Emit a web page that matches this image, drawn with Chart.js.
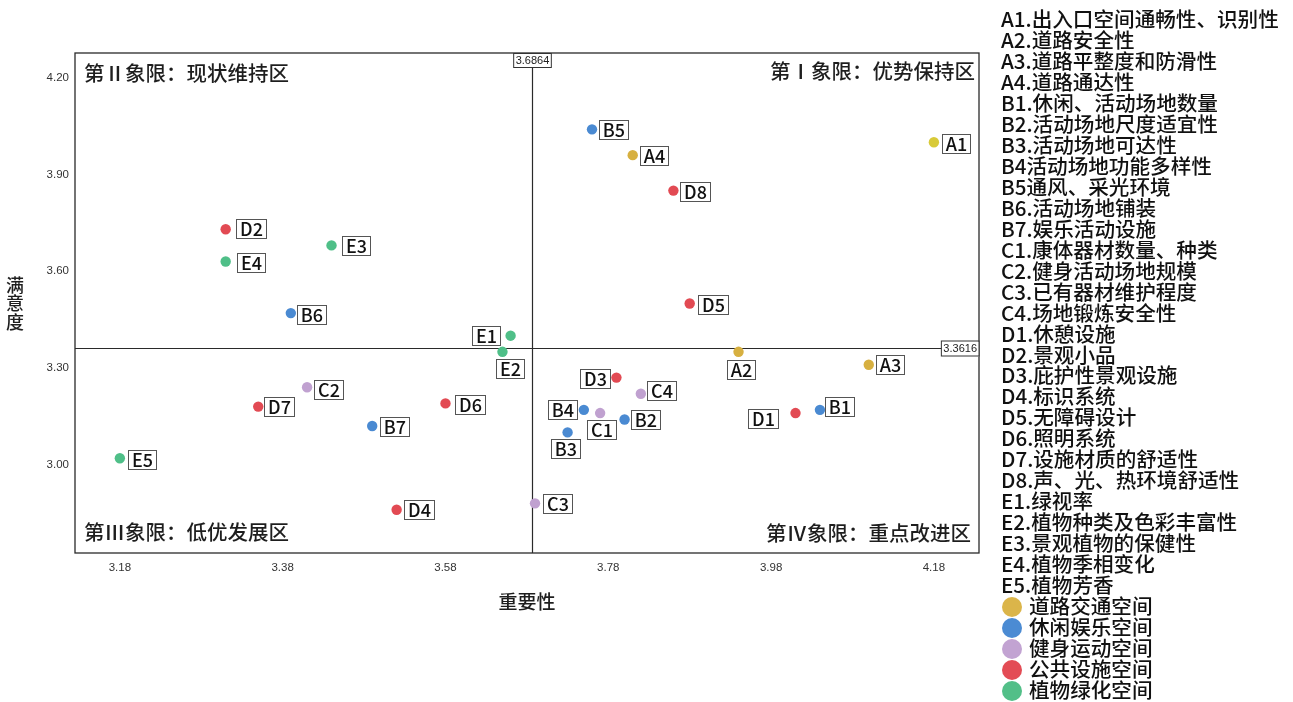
<!DOCTYPE html>
<html><head><meta charset="utf-8">
<script src="https://cdn.jsdelivr.net/npm/chart.js@4.4.1/dist/chart.umd.min.js"></script>
<style>
html,body{margin:0;padding:0;background:#fff;}
#wrap{position:relative;width:1293px;height:702px;overflow:hidden;}
#c{position:absolute;left:0;top:0;}
#legend{position:absolute;left:1001px;top:8px;font-family:"Noto Sans CJK SC";font-size:20.6px;line-height:20.97px;color:#111;white-space:nowrap;font-weight:500;}
#legend div{height:20.97px;}
.sw{display:inline-block;width:20px;height:20px;border-radius:50%;vertical-align:-3px;margin-left:1px;margin-right:7px;}
</style></head><body>
<div id="wrap"><canvas id="c" width="1293" height="702"></canvas><div id="legend"></div></div>
<script>
// ---- data ----
const codes = ['A1','A2','A3','A4','B1','B2','B3','B4','B5','B6','B7','C1','C2','C3','C4','D1','D2','D3','D4','D5','D6','D7','D8','E1','E2','E3','E4','E5'];
const importance = [4.18,3.94,4.10,3.81, 4.04,3.80,3.73,3.75,3.76,3.39,3.49, 3.77,3.41,3.69,3.82, 4.01,3.31,3.79,3.52,3.88,3.58,3.35,3.86, 3.66,3.65,3.44,3.31,3.18];
const satisfaction = [4.00,3.35,3.31,3.96, 3.17,3.14,3.10,3.17,4.04,3.47,3.12, 3.16,3.24,2.88,3.22, 3.16,3.73,3.27,2.86,3.50,3.19,3.18,3.85, 3.40,3.35,3.68,3.63,3.02];
const itemNames = ['A1.出入口空间通畅性、识别性','A2.道路安全性','A3.道路平整度和防滑性','A4.道路通达性',
 'B1.休闲、活动场地数量','B2.活动场地尺度适宜性','B3.活动场地可达性','B4活动场地功能多样性','B5通风、采光环境','B6.活动场地铺装','B7.娱乐活动设施',
 'C1.康体器材数量、种类','C2.健身活动场地规模','C3.已有器材维护程度','C4.场地锻炼安全性',
 'D1.休憩设施','D2.景观小品','D3.庇护性景观设施','D4.标识系统','D5.无障碍设计','D6.照明系统','D7.设施材质的舒适性','D8.声、光、热环境舒适性',
 'E1.绿视率','E2.植物种类及色彩丰富性','E3.景观植物的保健性','E4.植物季相变化','E5.植物芳香'];
const groupKeys = ['A','B','C','D','E'];
const groupNames = ['道路交通空间','休闲娱乐空间','健身运动空间','公共设施空间','植物绿化空间'];
const xTicks = [3.18,3.38,3.58,3.78,3.98,4.18];
const yTicks = [3.00,3.30,3.60,3.90,4.20];
const meanImportance = 3.6864;
const meanSatisfaction = 3.3616;
const xTitle = '重要性';
const yTitle = '满意度';
const quadrantTitles = ['第Ⅰ象限：优势保持区','第Ⅱ象限：现状维持区','第Ⅲ象限：低优发展区','第Ⅳ象限：重点改进区'];

// ---- style (not data) ----
const groupColors = ['#d7b040','#4a8ad2','#c0a1d0','#e24a53','#4fbf88'];
const legendColors = ['#dbb54a','#4b8bd3','#c2a3d2','#e34c55','#52bf88'];
const specialPointColor = {A1:'#d8ca38'};
// label box centre offsets from the point, px
const labelOffsets = {
 A1:[22,1],A2:[2,18],A3:[21,0],A4:[21,0],
 B1:[20,-3],B2:[21,0],B3:[-2,16],B4:[-21,0],B5:[21,0],B6:[21,1],B7:[22,1],
 C1:[1,16],C2:[21,2],C3:[22,0],C4:[21,-3],
 D1:[-33,5],D2:[25,-1],D3:[-21,1],D4:[22,0],D5:[23,1],D6:[25,1],D7:[21,0],D8:[22,1],
 E1:[-25,0],E2:[8,17],E3:[24,0],E4:[25,1],E5:[22,1]
};

// ---- legend (HTML text) ----
const lg = document.getElementById('legend');
itemNames.forEach(t=>{const d=document.createElement('div');d.textContent=t;lg.appendChild(d);});
groupNames.forEach((t,i)=>{const d=document.createElement('div');const s=document.createElement('span');s.className='sw';s.style.background=legendColors[i];d.appendChild(s);d.appendChild(document.createTextNode(t));lg.appendChild(d);});

// ---- datasets ----
const datasets = groupKeys.map((g,gi)=>{
  const idx = codes.map((c,i)=>i).filter(i=>codes[i][0]===g);
  return {
    label: groupNames[gi],
    data: idx.map(i=>({x:importance[i], y:satisfaction[i], code:codes[i]})),
    pointBackgroundColor: idx.map(i=>specialPointColor[codes[i]]||groupColors[gi]),
    pointBorderWidth: 0,
    pointRadius: 5.2,
    pointHoverRadius: 5.2
  };
});

const CJK = '"Noto Sans CJK SC"';
const deco = {
  id:'deco',
  beforeDatasetsDraw(chart){
    const {ctx, chartArea:a, scales:{x,y}} = chart;
    ctx.save();
    ctx.strokeStyle='#2a2a2a'; ctx.lineWidth=1.3;
    ctx.strokeRect(a.left, a.top, a.right-a.left, a.bottom-a.top);
    const vx = Math.round(x.getPixelForValue(meanImportance))+0.5;
    const hy = Math.round(y.getPixelForValue(meanSatisfaction))+0.5;
    ctx.lineWidth=1.2;
    ctx.beginPath(); ctx.moveTo(vx,a.top); ctx.lineTo(vx,a.bottom); ctx.stroke();
    ctx.beginPath(); ctx.moveTo(a.left,hy); ctx.lineTo(a.right,hy); ctx.stroke();
    // value boxes
    ctx.font='11px "Liberation Sans"'; ctx.textBaseline='middle'; ctx.textAlign='center';
    const t1=meanImportance.toFixed(4), w1=ctx.measureText(t1).width+4;
    ctx.fillStyle='#fff'; ctx.fillRect(vx-w1/2,a.top+1,w1,14);
    ctx.lineWidth=1; ctx.strokeStyle='#333'; ctx.strokeRect(vx-w1/2,a.top+0.5,w1,14);
    ctx.fillStyle='#222'; ctx.fillText(t1,vx,a.top+8);
    const t2=meanSatisfaction.toFixed(4), w2=ctx.measureText(t2).width+4;
    ctx.fillStyle='#fff'; ctx.fillRect(a.right-w2,hy-7,w2,15);
    ctx.strokeRect(a.right-w2,hy-7.5,w2,15);
    ctx.fillStyle='#222'; ctx.fillText(t2,a.right-w2/2,hy);
    // quadrant titles
    ctx.font='500 20.5px '+CJK; ctx.fillStyle='#1e1e1e';
    ctx.textAlign='right'; ctx.fillText(quadrantTitles[0], a.right-4, a.top+18);
    ctx.textAlign='left'; ctx.fillText(quadrantTitles[1], a.left+9, a.top+20);
    ctx.textAlign='left'; ctx.fillText(quadrantTitles[2], a.left+9, a.bottom-21);
    ctx.textAlign='right'; ctx.fillText(quadrantTitles[3], a.right-8, a.bottom-20);
    // y title stacked
    ctx.font='500 18px '+CJK; ctx.textAlign='center'; ctx.fillStyle='#1e1e1e';
    [...yTitle].forEach((ch,i)=>ctx.fillText(ch, 15, 285+i*18.5));
    ctx.restore();
  },
  afterDatasetsDraw(chart){
    const {ctx} = chart;
    ctx.save();
    ctx.font='500 18px '+CJK; ctx.textAlign='center'; ctx.textBaseline='middle';
    chart.data.datasets.forEach((ds,di)=>{
      const meta = chart.getDatasetMeta(di);
      meta.data.forEach((el,j)=>{
        const code = ds.data[j].code;
        const [dx,dy] = labelOffsets[code]||[20,0];
        const cx = el.x+dx, cy = el.y+dy;
        const w = Math.round(ctx.measureText(code).width)+7, h=19;
        const bx = Math.round(cx-w/2)+0.5, by=Math.round(cy-h/2)+0.5;
        ctx.fillStyle='#fff'; ctx.fillRect(bx,by,w,h);
        ctx.strokeStyle='#555'; ctx.lineWidth=1; ctx.strokeRect(bx,by,w,h);
        ctx.fillStyle='#111'; ctx.fillText(code, bx+w/2, by+h/2+0.5);
      });
    });
    ctx.restore();
  }
};

new Chart(document.getElementById('c'), {
  type:'scatter',
  data:{datasets},
  plugins:[deco],
  options:{
    responsive:false, animation:false,
    layout:{padding:{left:0,top:53,right:314,bottom:0}},
    plugins:{legend:{display:false}, tooltip:{enabled:false}},
    scales:{
      x:{
        type:'linear', position:'bottom', min:3.1249, max:4.2354,
        afterBuildTicks:s=>{s.ticks = xTicks.map(v=>({value:v}));},
        afterFit:s=>{s.height=149;},
        grid:{display:false, drawTicks:false}, border:{display:false},
        ticks:{autoSkip:false, maxRotation:0, padding:8, color:'#333', font:{family:'"Liberation Sans"', size:11.5}, callback:v=>Number(v).toFixed(2)},
        title:{display:true, text:xTitle, color:'#1e1e1e', font:{family:CJK, size:19, weight:'500'}, padding:{top:0,bottom:88.6}}
      },
      y:{
        type:'linear', position:'left', min:2.726, max:4.2768,
        afterBuildTicks:s=>{s.ticks = yTicks.map(v=>({value:v}));},
        afterFit:s=>{s.width=75;},
        grid:{display:false, drawTicks:false}, border:{display:false},
        ticks:{autoSkip:false, padding:6, color:'#333', font:{family:'"Liberation Sans"', size:11.5}, callback:v=>Number(v).toFixed(2)}
      }
    }
  }
});
</script>
</body></html>
